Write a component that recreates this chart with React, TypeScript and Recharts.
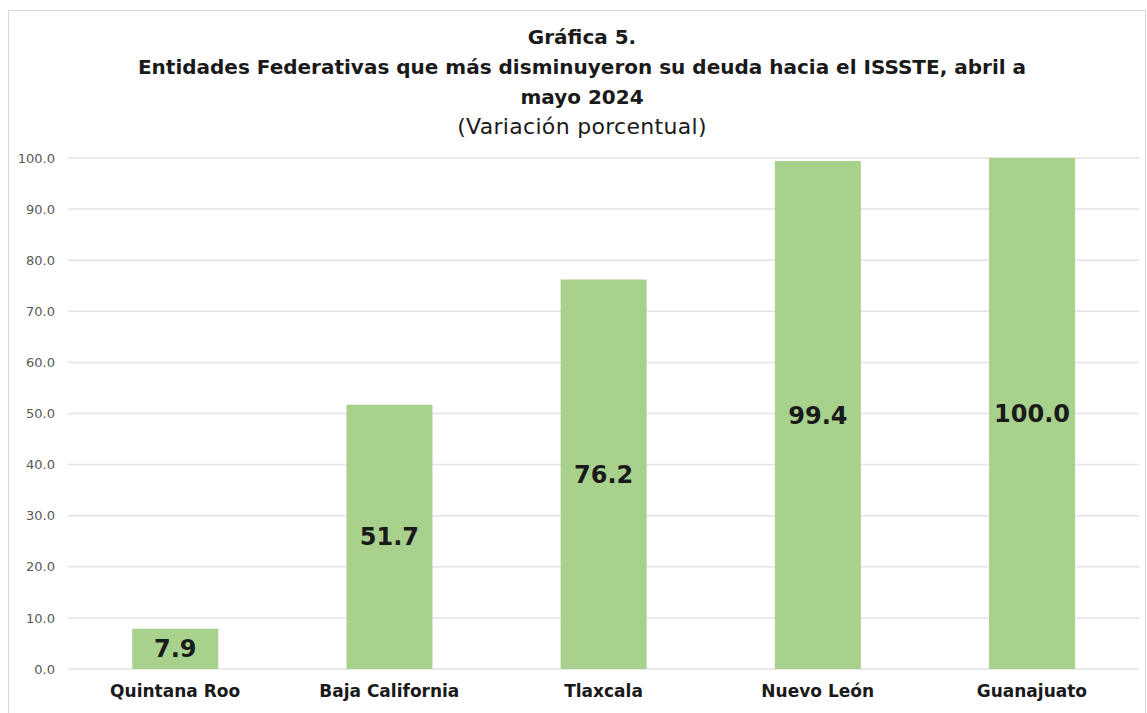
import { BarChart, Bar, XAxis, YAxis, CartesianGrid, LabelList } from 'recharts'

const entidades = ['Quintana Roo', 'Baja California', 'Tlaxcala', 'Nuevo León', 'Guanajuato']
const variacion = [7.9, 51.7, 76.2, 99.4, 100.0]
const yTicks = [0, 10, 20, 30, 40, 50, 60, 70, 80, 90, 100]

const data = entidades.map((name, i) => ({ name, value: variacion[i] }))

const FONT = '"DejaVu Sans", sans-serif'

export default function App() {
  return (
    <div style={{ position: 'fixed', left: 0, top: 0, width: 1147, height: 713, background: '#fff', fontFamily: FONT, overflow: 'hidden' }}>
      <div style={{ position: 'absolute', left: 8, top: 10, width: 1136, height: 720, border: '1px solid #d9d9d9' }} />
      <div style={{ position: 'absolute', left: 0, width: 1164, top: 22, textAlign: 'center', color: '#1a1a1a', fontWeight: 'bold', fontSize: 20, lineHeight: '30px' }}>
        <div>Gráfica 5.</div>
        <div>Entidades Federativas que más disminuyeron su deuda hacia el ISSSTE, abril a</div>
        <div>mayo 2024</div>
        <div style={{ fontWeight: 'normal', fontSize: 22, letterSpacing: 0.3 }}>(Variación porcentual)</div>
      </div>
      <BarChart
        width={1147}
        height={713}
        data={data}
        margin={{ top: 158, right: 8, left: 0, bottom: 0 }}
        barCategoryGap="30%"
        style={{ position: 'absolute', left: 0, top: 0 }}
      >
        <CartesianGrid vertical={false} stroke="#e3e3e3" strokeWidth={1.5} />
        <XAxis
          dataKey="name"
          axisLine={false}
          tickLine={false}
          height={44}
          tick={{ fill: '#1a1a1a', fontSize: 17, fontWeight: 'bold', fontFamily: FONT }}
          tickMargin={10}
        />
        <YAxis
          width={68}
          domain={[0, 100]}
          ticks={yTicks}
          axisLine={false}
          tickLine={false}
          tickMargin={7}
          tickFormatter={(v: number) => v.toFixed(1)}
          tick={{ fill: '#595959', fontSize: 13, fontFamily: FONT }}
        />
        <Bar dataKey="value" fill="#a9d18e" isAnimationActive={false}>
          <LabelList
            dataKey="value"
            position="center"
            formatter={(v: any) => Number(v).toFixed(1)}
            style={{ fill: '#1a1a1a', fontSize: 24, fontWeight: 'bold', fontFamily: FONT }}
          />
        </Bar>
      </BarChart>
    </div>
  )
}
